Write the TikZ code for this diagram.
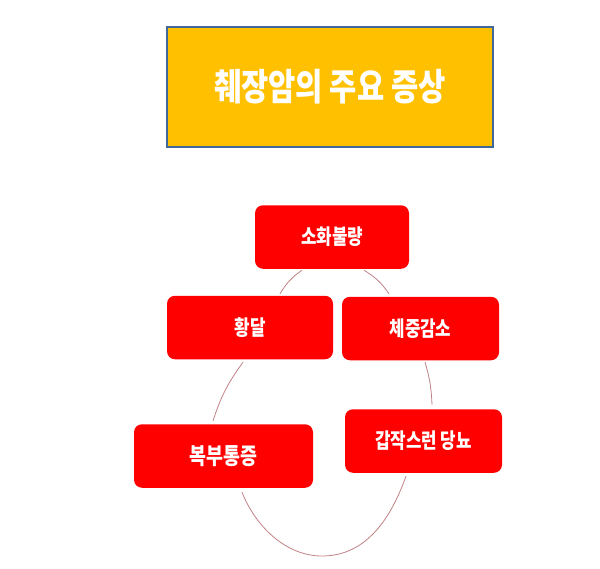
\documentclass[tikz,border=0pt]{standalone}
\usepackage{fontspec}
\newfontfamily\kr{Noto Sans CJK KR}[FakeStretch=0.8]
\definecolor{titelgelb}{HTML}{FFC000}
\definecolor{titelrand}{HTML}{41689A}
\definecolor{kreislinie}{HTML}{C08286}
\begin{document}
\begin{tikzpicture}[x=1pt,y=-1pt,
  titel/.style={draw=titelrand, line width=2pt, fill=titelgelb, text=white,
    minimum width=326pt, minimum height=120pt,
    font=\kr\bfseries\fontsize{37}{40}\selectfont},
  symptom/.style={fill=red, rounded corners=8pt, text=white,
    minimum width=#1, minimum height=63.5pt,
    font=\kr\bfseries\fontsize{21}{24}\selectfont},
  bogen/.style={draw=kreislinie, line width=0.8pt}]
  \useasboundingbox (0,0) rectangle (600,568);
  % Titel
  \node[titel] (titel) at (330,87) {췌장암의 주요 증상};
  % Symptome
  \node[symptom=154pt] (verdauung) at (332,237) {소화불량};
  \node[symptom=166pt] (gelbsucht) at (250,327.5) {황달};
  \node[symptom=157pt] (gewicht) at (420.5,328.5) {체중감소};
  \node[symptom=179pt, font=\kr\bfseries\fontsize{23}{26}\selectfont] (bauch) at (223.5,456) {복부통증};
  \node[symptom=157pt] (diabetes) at (423.5,441) {갑작스런 당뇨};
  % Kreislauf
  \coordinate (boden) at (322,556);
  \draw[bogen] ([xshift=30pt,yshift=1.75pt]gelbsucht.north)
    to[bend left=12] ([xshift=-30pt,yshift=-1.25pt]verdauung.south);
  \draw[bogen] ([xshift=32pt,yshift=-1.25pt]verdauung.south)
    to[bend left=12] ([xshift=-31.5pt,yshift=2.75pt]gewicht.north);
  \draw[bogen] ([xshift=4.5pt,yshift=-1.75pt]gewicht.south)
    to[bend left=7] ([xshift=8.5pt,yshift=4.25pt]diabetes.north);
  \draw[bogen] ([xshift=-17.5pt,yshift=-3.25pt]diabetes.south)
    .. controls +(-21,59) and +(33,0) .. (boden)
    .. controls +(-37,0) and +(13,33) .. ([xshift=18.5pt,yshift=-4.25pt]bauch.south);
  \draw[bogen] ([xshift=-10.5pt,yshift=3.25pt]bauch.north)
    to[bend left=9] ([xshift=-7pt,yshift=-2.75pt]gelbsucht.south);
\end{tikzpicture}
\end{document}
